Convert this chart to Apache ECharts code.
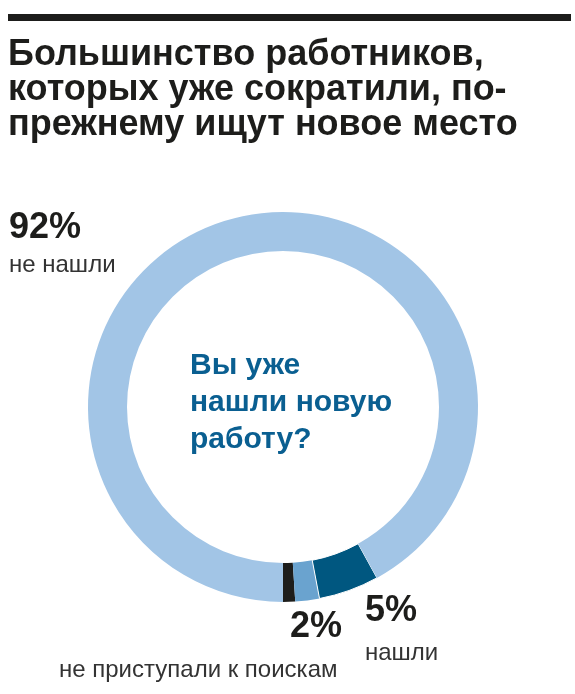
<!DOCTYPE html>
<html>
<head>
<meta charset="utf-8">
<script src="https://cdn.jsdelivr.net/npm/echarts@6/dist/echarts.min.js"></script>
<style>
html,body{margin:0;padding:0;background:#fff;}
#c{width:575px;height:694px;}
</style>
</head>
<body>
<div id="c"></div>
<script>
// Data
var categories = ['нет ответа', 'не приступали к поискам', 'нашли', 'не нашли'];
var values = [1, 2, 5, 92];
var colors = ['#1d1d1b', '#6aa3cf', '#005780', '#a2c5e6'];
var titleLines = ['Большинство работников,', 'которых уже сократили, по-', 'прежнему ищут новое место'];
var centerLines = ['Вы уже', 'нашли новую', 'работу?'];
var labelPct = ['92%', '2%', '5%'];
var labelText = ['не нашли', 'не приступали к поискам', 'нашли'];

var FONT = '"Liberation Sans", Arial, Helvetica, sans-serif';
var chart = echarts.init(document.getElementById('c'), null, {renderer: 'canvas'});

var graphics = [];
graphics.push({type: 'rect', shape: {x: 8, y: 14, width: 563, height: 7}, style: {fill: '#1d1d1b'}});
var tY = [55, 90, 125];
titleLines.forEach(function (t, i) {
  graphics.push({type: 'text', x: 8, y: tY[i], style: {text: t, font: 'bold 36px ' + FONT, fill: '#1d1d1b', textVerticalAlign: 'middle', textAlign: 'left'}});
});
var cY = [366, 403, 440];
centerLines.forEach(function (t, i) {
  graphics.push({type: 'text', x: 190, y: cY[i], style: {text: t, font: 'bold 30px ' + FONT, fill: '#0a5f91', textVerticalAlign: 'middle', textAlign: 'left'}});
});
// percent labels
var pctPos = [[9, 228], [290, 627], [365, 611]];
labelPct.forEach(function (t, i) {
  graphics.push({type: 'text', x: pctPos[i][0], y: pctPos[i][1], style: {text: t, font: 'bold 36px ' + FONT, fill: '#1d1d1b', textVerticalAlign: 'middle', textAlign: 'left'}});
});
var txtPos = [[9, 265], [59, 670], [365, 653]];
labelText.forEach(function (t, i) {
  graphics.push({type: 'text', x: txtPos[i][0], y: txtPos[i][1], style: {text: t, font: '24px ' + FONT, fill: '#333333', textVerticalAlign: 'middle', textAlign: 'left'}});
});

chart.setOption({
  animation: false,
  backgroundColor: '#ffffff',
  graphic: graphics,
  series: [{
    type: 'pie',
    center: [283, 407],
    radius: [156, 195],
    startAngle: 270,
    clockwise: false,
    silent: true,
    label: {show: false},
    labelLine: {show: false},
    data: categories.map(function (c, i) {
      return {
        name: c,
        value: values[i],
        itemStyle: {color: colors[i], borderColor: '#ffffff', borderWidth: i === 2 ? 1 : 0}
      };
    })
  }]
});
</script>
</body>
</html>
